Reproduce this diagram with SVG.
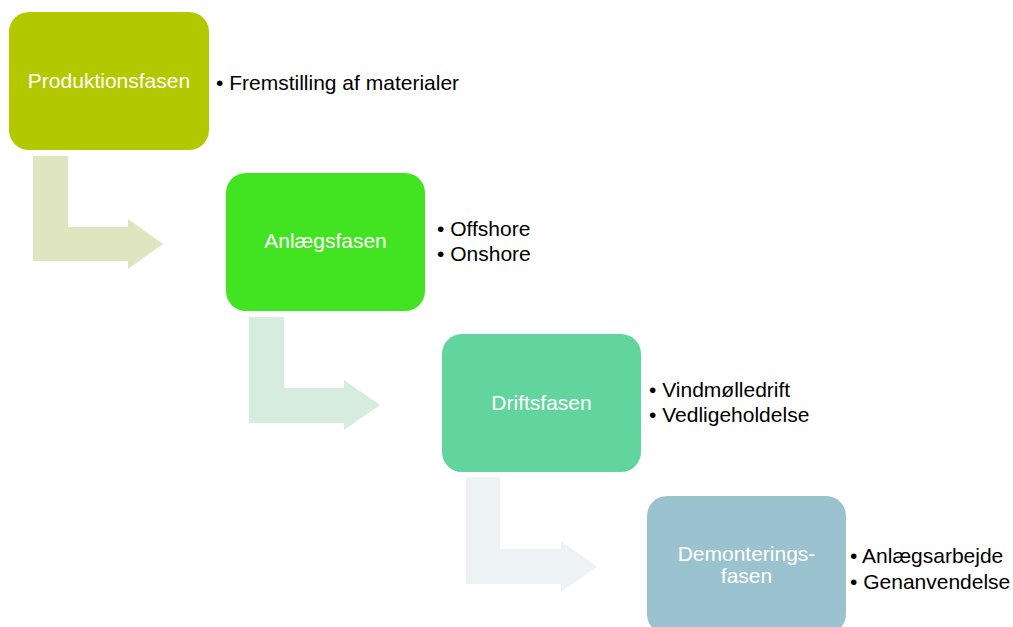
<svg xmlns="http://www.w3.org/2000/svg" width="1013" height="627" viewBox="0 0 1013 627">
<style>
.box{stroke:none}
.lbl{font-family:"Liberation Sans",Arial,sans-serif;font-size:21px;fill:#FFFFFF;text-anchor:middle}
.bul{font-family:"Liberation Sans",Arial,sans-serif;font-size:21px;fill:#000000}
</style>
<rect width="1013" height="627" fill="#FFFFFF"/>
<g id="connectors">
<path d="M33,156 H68 V227 H128 V219 L163,244 L128,269 V261 H33 Z" fill="#DFE5BF"/>
<path d="M249,317 H284 V388 H344 V380 L380,405 L344,430 V423 H249 Z" fill="#D6ECDD"/>
<path d="M466,477 H500 V549 H561 V541 L597,566.5 L561,592 V584 H466 Z" fill="#EDF3F5"/>
</g>
<g id="node1">
<rect class="box" x="9" y="12" width="200" height="138" rx="20" fill="#B4C800"/>
<text class="lbl" x="109" y="88">Produktionsfasen</text>
<text class="bul" x="216" y="90">• Fremstilling af materialer</text>
</g>
<g id="node2">
<rect class="box" x="226" y="173" width="199" height="138" rx="20" fill="#42E320"/>
<text class="lbl" x="325.5" y="248">Anlægsfasen</text>
<text class="bul" x="437" y="236">• Offshore</text>
<text class="bul" x="437" y="261">• Onshore</text>
</g>
<g id="node3">
<rect class="box" x="442" y="334" width="199" height="138" rx="20" fill="#62D49D"/>
<text class="lbl" x="541.5" y="410">Driftsfasen</text>
<text class="bul" x="649" y="397">• Vindmølledrift</text>
<text class="bul" x="649" y="422">• Vedligeholdelse</text>
</g>
<g id="node4">
<rect class="box" x="647" y="496" width="199" height="138" rx="20" fill="#9AC2CF"/>
<text class="lbl" x="746.5" y="561">Demonterings-</text>
<text class="lbl" x="746.5" y="583">fasen</text>
<text class="bul" x="850" y="563">• Anlægsarbejde</text>
<text class="bul" x="850" y="589">• Genanvendelse</text>
</g>
</svg>
